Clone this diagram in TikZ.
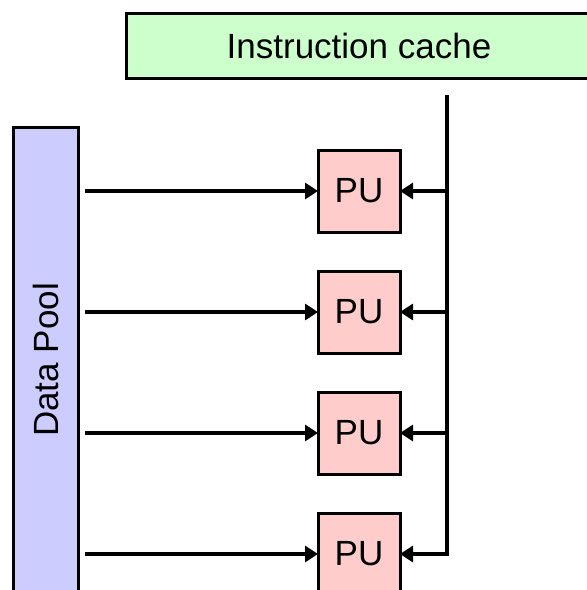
\documentclass[tikz,border=0pt]{standalone}
\usepackage{fontspec}
\setmainfont{Liberation Sans}
\usetikzlibrary{arrows.meta}
\definecolor{cachegreen}{HTML}{CCFFCC}
\definecolor{poolblue}{HTML}{CCCCFF}
\definecolor{pupink}{HTML}{FFCCCC}
\begin{document}
\begin{tikzpicture}[x=1pt,y=-1pt,
  box/.style={draw=black,line width=3pt,inner sep=0pt,outer sep=0pt,
    font=\fontsize{35}{40}\selectfont},
  pubox/.style={box,fill=pupink,minimum width=82pt,minimum height=82pt},
  conn/.style={line width=3.2pt,-{Triangle[length=13pt,width=16pt]}},
  wire/.style={line width=3.2pt}]
\clip (0,0) rectangle (587,590);
\fill[white] (0,0) rectangle (587,590);
\node[box,fill=cachegreen,minimum width=466pt,minimum height=65pt] (cache) at (359,45.5) {Instruction cache};
\node[box,fill=poolblue,minimum width=65pt,minimum height=470pt] (pool) at (45.5,362) {};
\node[rotate=90,font=\fontsize{35}{40}\selectfont] (poollabel) at (45.5,360) {Data Pool};
\foreach \i/\y in {1/191,2/312,3/433,4/554}{
  \node[pubox] (pu\i) at (359,\y) {PU};
  \coordinate (src\i) at (85,\y);
  \draw[conn] (src\i) -- (pu\i.west);
}
\coordinate (bus) at (447,95);
\draw[conn] (bus) |- (pu4.east);
\foreach \i in {1,2,3}{
  \draw[conn] (bus |- pu\i.east) -- (pu\i.east);
}
\end{tikzpicture}
\end{document}
